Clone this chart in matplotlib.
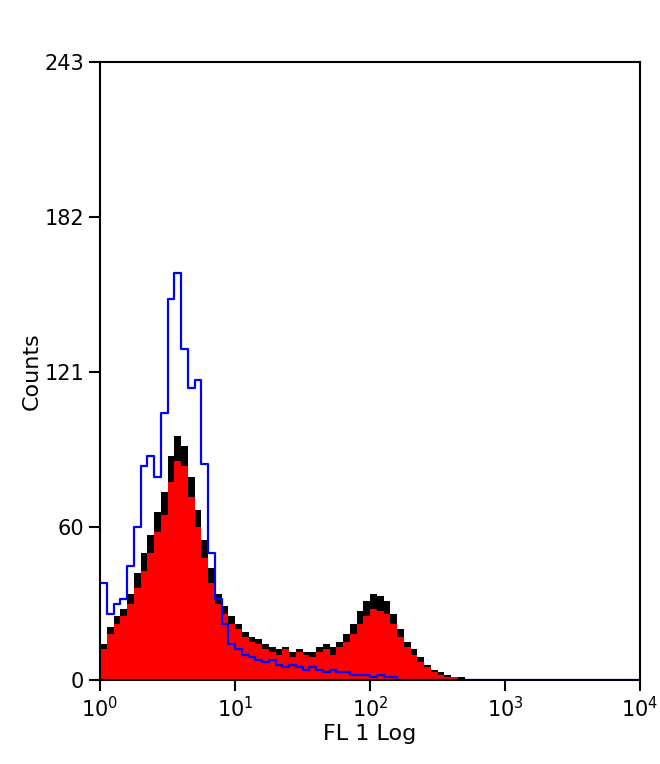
import matplotlib

matplotlib.use("Agg")
import matplotlib.pyplot as plt
import numpy as np

# channel counts per 0.05-decade bin, 10^0 .. 10^4
red_counts = [12, 18, 22, 25, 30, 36, 43, 50, 58, 65,
              78, 86, 84, 72, 60, 48, 38, 30, 26, 22,
              20, 17, 15, 14, 12, 11, 10, 12, 9, 11,
              10, 9, 11, 12, 10, 13, 15, 18, 22, 25,
              28, 27, 26, 22, 17, 13, 10, 7, 5, 3,
              2, 1, 1, 0, 0, 0, 0, 0, 0, 0] + [0] * 20
black_counts = [14, 21, 25, 28, 34, 42, 50, 57, 66, 74,
                88, 96, 92, 80, 67, 55, 44, 34, 29, 25,
                22, 19, 17, 16, 14, 13, 12, 13, 11, 12,
                11, 11, 13, 14, 13, 15, 18, 22, 27, 31,
                34, 33, 31, 26, 20, 15, 12, 9, 6, 4,
                3, 2, 1, 1, 0, 0, 0, 0, 0, 0] + [0] * 20
blue_counts = [38, 26, 30, 32, 45, 60, 84, 88, 80, 105,
               150, 160, 130, 115, 118, 85, 50, 32, 22, 14,
               12, 10, 9, 8, 7, 8, 6, 5, 6, 5,
               4, 5, 4, 3, 4, 3, 3, 2, 2, 2,
               1, 2, 1, 1, 0, 0, 0, 0, 0, 0] + [0] * 30

y_ticks = [0, 60, 121, 182, 243]
x_ticks = [1, 10, 100, 1000, 10000]
x_labels = ["10$^0$", "10$^1$", "10$^2$", "10$^3$", "10$^4$"]

edges = 10 ** np.linspace(0, 4, len(red_counts) + 1)


def stepped(counts):
    return np.append(counts, counts[-1])


fig = plt.figure(figsize=(6.6, 7.64), dpi=100)
ax = fig.add_axes([100 / 660, 84 / 764, 540 / 660, 618 / 764])
ax.fill_between(edges, stepped(black_counts), step="post", color="black", linewidth=0)
ax.fill_between(edges, stepped(red_counts), step="post", color="red", linewidth=0)
ax.step(edges, stepped(blue_counts), where="post", color="blue", linewidth=1.6)

ax.set_xscale("log")
ax.set_xlim(1, 10000)
ax.set_ylim(0, 243)
ax.set_xticks(x_ticks)
ax.set_xticklabels(x_labels)
ax.minorticks_off()
ax.set_yticks(y_ticks)
ax.tick_params(direction="out", length=8, width=1.5, labelsize=15)
for side in ax.spines.values():
    side.set_linewidth(1.5)
ax.set_xlabel("FL 1 Log", fontsize=16, labelpad=2)
ax.set_ylabel("Counts", fontsize=16, labelpad=2)

fig.savefig("out.png", dpi=100)
